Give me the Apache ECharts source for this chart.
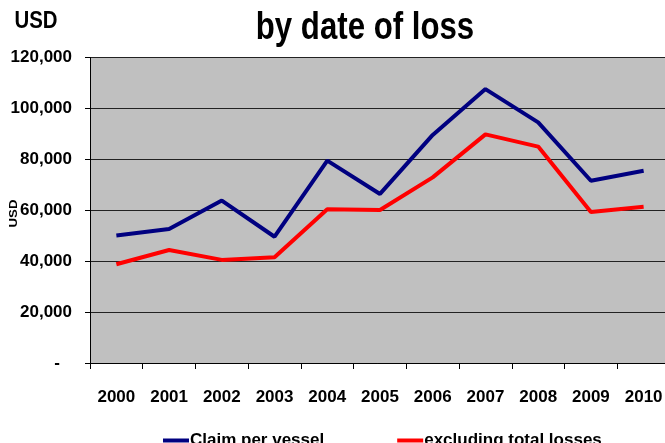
<!DOCTYPE html>
<html>
<head>
<meta charset="utf-8">
<script src="https://cdn.jsdelivr.net/npm/echarts@6/dist/echarts.min.js"></script>
<style>
  html, body { margin: 0; padding: 0; background: #ffffff; }
  #chart { width: 665px; height: 443px; }
</style>
</head>
<body>
<div id="chart"></div>
<script>
// Loss years on the category axis
const years = ['2000', '2001', '2002', '2003', '2004', '2005', '2006', '2007', '2008', '2009', '2010'];

// Average claim per vessel, USD
const claimPerVessel = [50100, 52600, 63800, 49600, 79500, 66400, 89600, 107600, 94500, 71600, 75500];

// Same average with total losses left out, USD
const excludingTotalLosses = [38800, 44400, 40500, 41500, 60400, 60100, 72900, 89800, 85000, 59300, 61400];

// Value axis ticks
const yTicks = [0, 20000, 40000, 60000, 80000, 100000, 120000];

const FONT = "'Liberation Sans', Arial, sans-serif";

const chart = echarts.init(document.getElementById('chart'), null, { renderer: 'canvas' });

const fmt = v => v === 0 ? '{z|-}' : v.toLocaleString('en-US');

chart.setOption({
  animation: false,
  backgroundColor: '#ffffff',
  graphic: [
    {
      // chart title, set in a condensed bold face
      type: 'text',
      x: 365,
      y: 28,
      scaleX: 0.8,
      style: {
        text: 'by date of loss',
        font: "bold 39px " + FONT,
        fill: '#000',
        align: 'center',
        verticalAlign: 'middle'
      }
    },
    {
      // unit caption above the value axis
      type: 'text',
      x: 36,
      y: 21,
      scaleX: 0.85,
      style: {
        text: 'USD',
        font: "bold 24px " + FONT,
        fill: '#000',
        align: 'center',
        verticalAlign: 'middle'
      }
    },
    {
      // small rotated axis title beside the value labels
      type: 'text',
      x: 14,
      y: 213.5,
      rotation: Math.PI / 2,
      scaleX: 1.2,
      style: {
        text: 'USD',
        font: "bold 11px " + FONT,
        fill: '#000',
        align: 'center',
        verticalAlign: 'middle'
      }
    }
  ],
  grid: {
    left: 90,
    right: -5,
    top: 57.5,
    bottom: 80,
    containLabel: false,
    outerBoundsMode: 'none',
    show: true,
    backgroundColor: '#c0c0c0',
    borderWidth: 0
  },
  legend: {
    left: 158,
    top: 427,
    itemGap: 73,
    itemWidth: 26,
    itemHeight: 4,
    icon: 'rect',
    textStyle: { fontFamily: FONT, fontWeight: 'bold', fontSize: 17, color: '#000', padding: [0, 0, 0, -4] },
    data: ['Claim per vessel', 'excluding total losses']
  },
  xAxis: {
    type: 'category',
    data: years,
    boundaryGap: true,
    axisLine: { lineStyle: { color: '#000', width: 1 } },
    axisTick: { show: true, length: 6, lineStyle: { color: '#000' } },
    axisLabel: { margin: 26, fontFamily: FONT, fontWeight: 'bold', fontSize: 17, color: '#000' },
    splitLine: { show: false }
  },
  yAxis: {
    type: 'value',
    min: yTicks[0],
    max: yTicks[yTicks.length - 1],
    interval: yTicks[1] - yTicks[0],
    axisLine: { show: true, lineStyle: { color: '#000', width: 1 } },
    axisTick: { show: true, length: 5, lineStyle: { color: '#000' } },
    axisLabel: {
      margin: 18,
      fontFamily: FONT, fontWeight: 'bold', fontSize: 17, color: '#000',
      formatter: fmt,
      rich: { z: { fontFamily: FONT, fontWeight: 'bold', fontSize: 17, color: '#000', padding: [0, 12, 0, 0] } }
    },
    splitLine: { show: true, lineStyle: { color: '#222', width: 1 } }
  },
  series: [
    {
      name: 'Claim per vessel',
      type: 'line',
      data: claimPerVessel,
      showSymbol: false,
      symbol: 'none',
      lineStyle: { color: '#000080', width: 4 },
      itemStyle: { color: '#000080' }
    },
    {
      name: 'excluding total losses',
      type: 'line',
      data: excludingTotalLosses,
      showSymbol: false,
      symbol: 'none',
      lineStyle: { color: '#ff0000', width: 4 },
      itemStyle: { color: '#ff0000' }
    }
  ]
});
</script>
</body>
</html>
